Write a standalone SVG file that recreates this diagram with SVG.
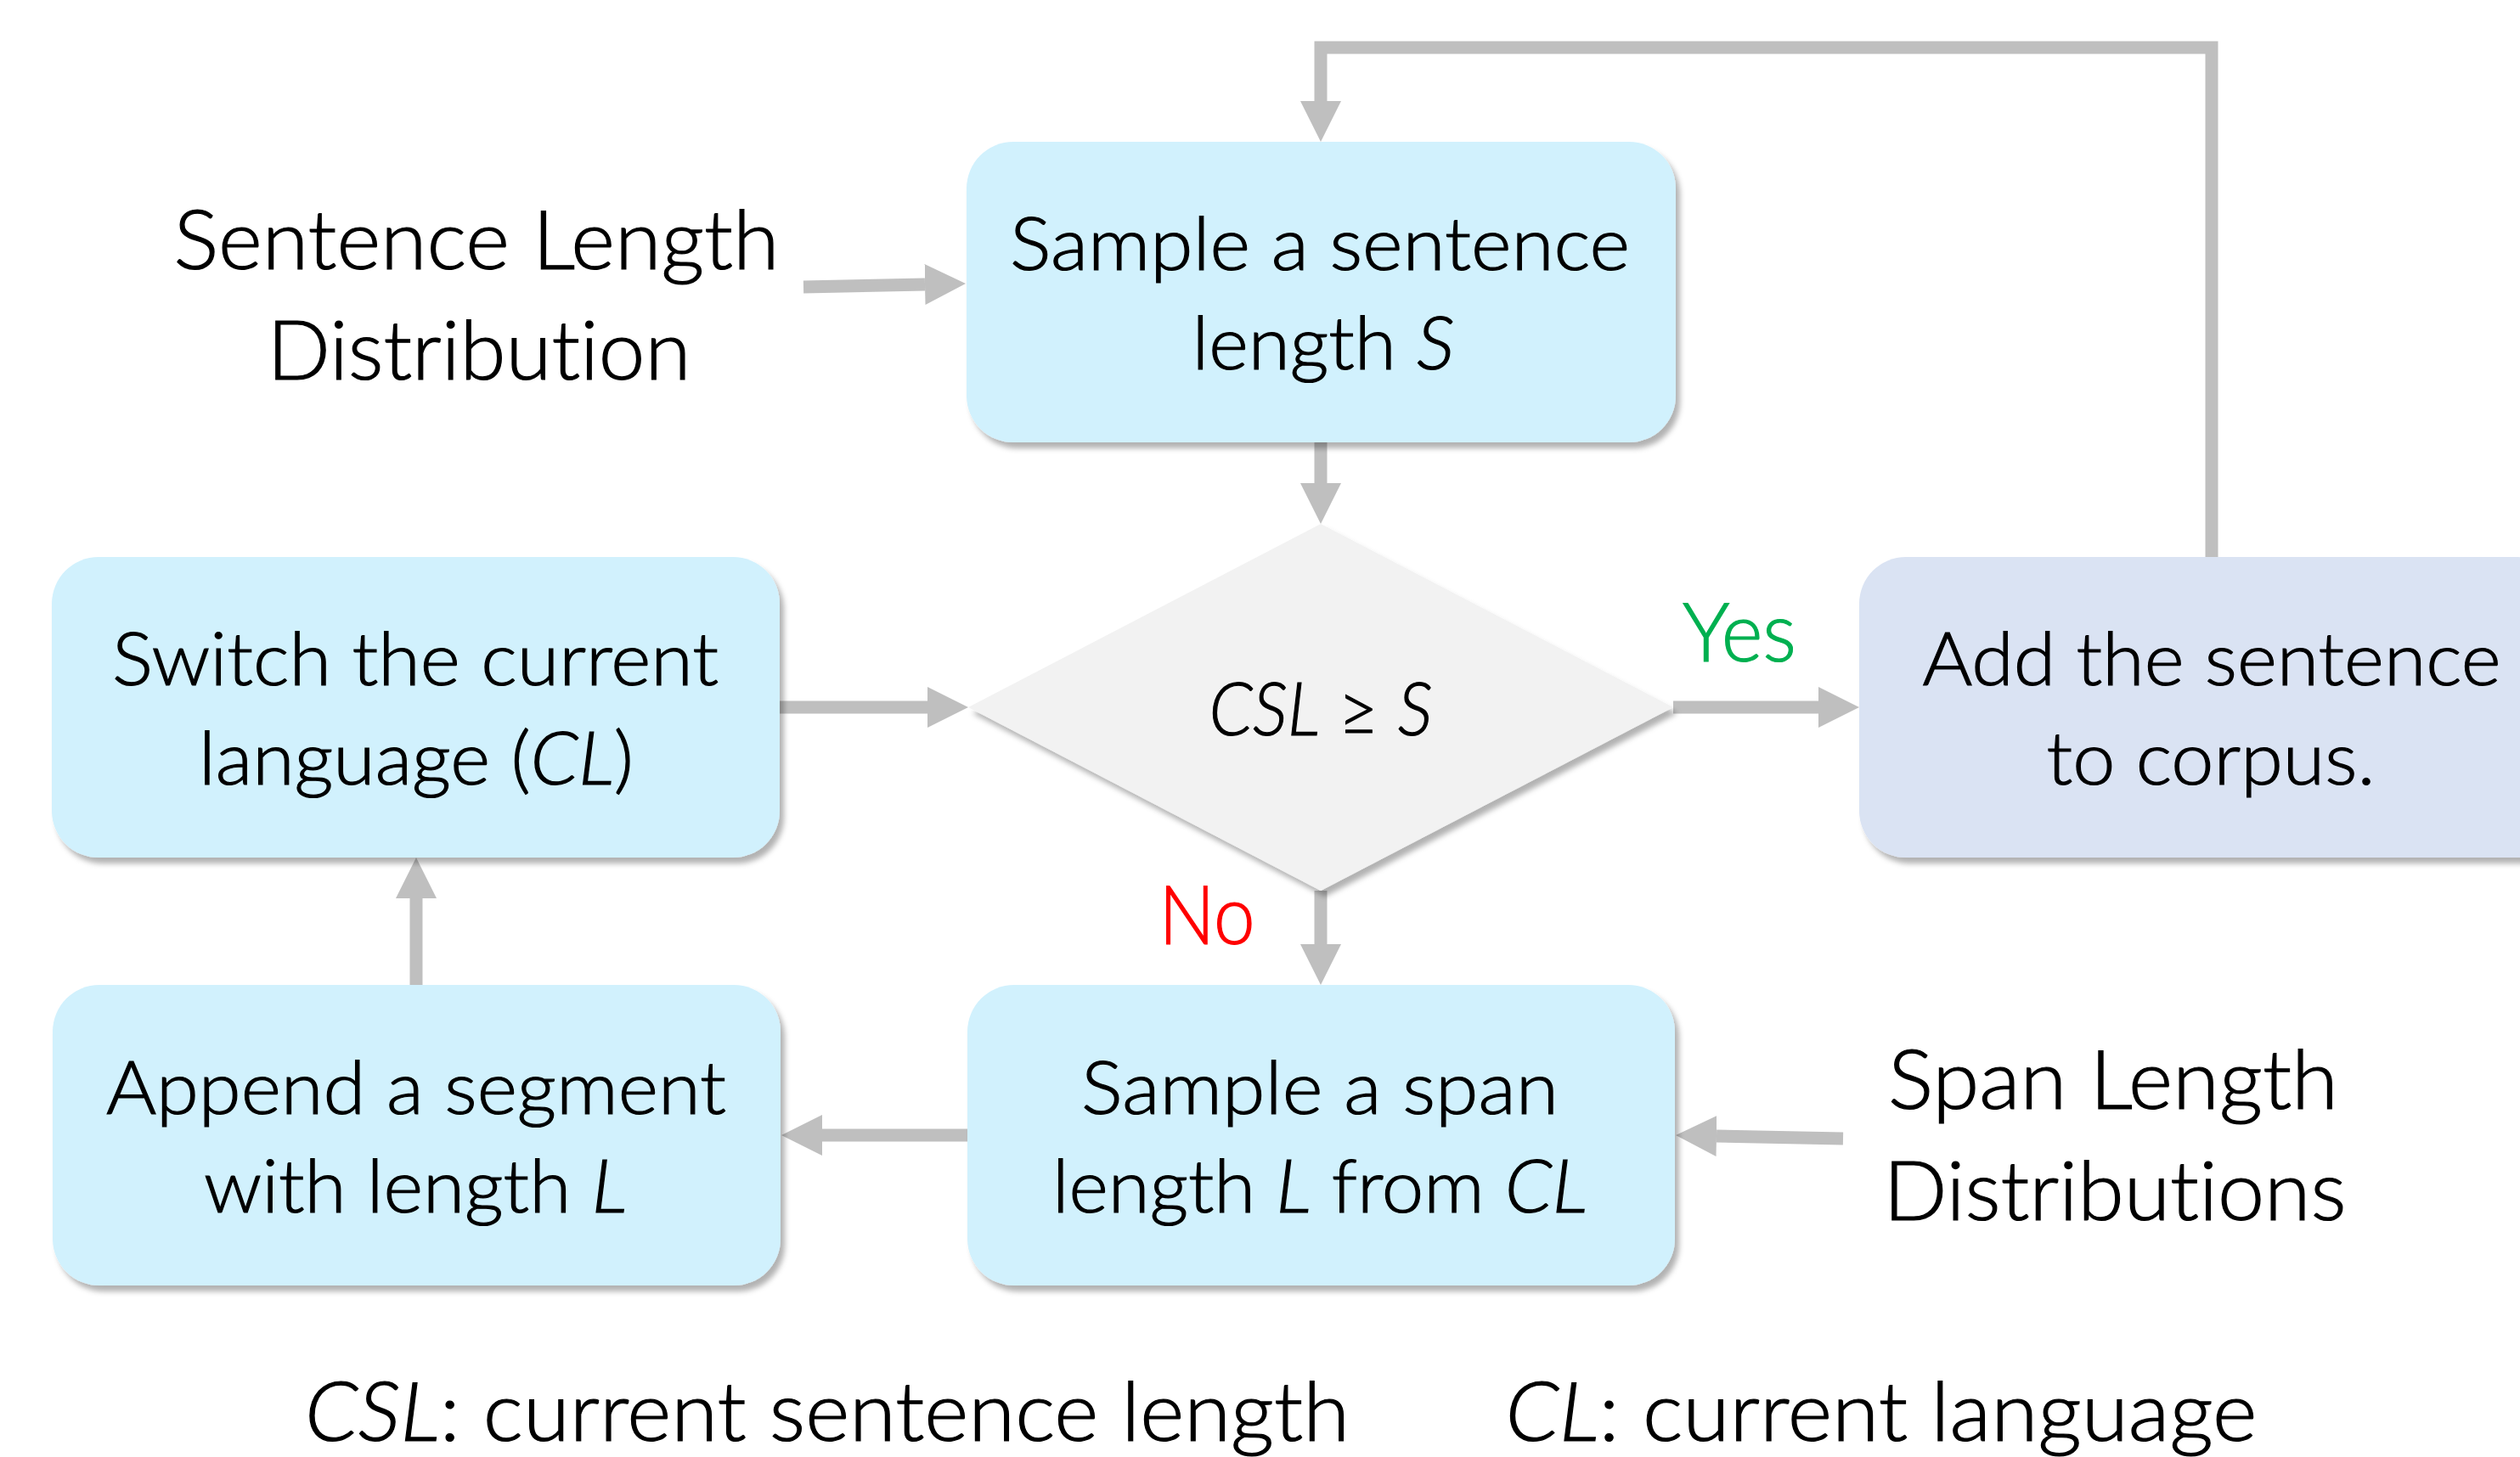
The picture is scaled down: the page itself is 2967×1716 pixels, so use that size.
<svg xmlns="http://www.w3.org/2000/svg" width="2967" height="1716" viewBox="0 0 2967 1716">
  <style>
    .box { fill: #D1F1FD; filter: url(#shade); }
    .box-out { fill: #DAE3F3; filter: url(#shade); }
    .decision { fill: #F2F2F2; filter: url(#shade); }
    .edge { fill: none; stroke: #BFBFBF; stroke-width: 15; marker-end: url(#head); }
    .loop { fill: none; stroke: #BFBFBF; stroke-width: 15; stroke-linejoin: miter; marker-end: url(#head); }
    text { font-family: Lato, "Open Sans", "Liberation Sans", sans-serif; font-weight: 300; font-variant-ligatures: none; fill: #000; stroke: #000; stroke-width: 1.2; text-anchor: middle; }
    .in { font-size: 87px; }
    .out { font-size: 97px; }
    .it { font-style: italic; }
    .yes { fill: #00B050; stroke: #00B050; }
    .no { fill: #FF0000; stroke: #FF0000; }
  </style>
  <defs>
    <filter id="shade" x="-10%" y="-10%" width="130%" height="130%">
      <feDropShadow dx="5" dy="7" stdDeviation="3" flood-color="#000" flood-opacity="0.3"/>
    </filter>
    <marker id="head" markerUnits="userSpaceOnUse" markerWidth="50" markerHeight="50" refX="0" refY="24" orient="auto">
      <path d="M0,0 L48,24 L0,48 z" fill="#BFBFBF"/>
    </marker>
  </defs>

  <!-- connectors -->
  <g id="connectors">
    <path class="loop" d="M2604,656 V56 H1555 V119"/>
    <path class="edge" d="M946,338 L1089,335"/>
    <path class="edge" d="M1555,521 V569"/>
    <path class="edge" d="M918,833 H1092"/>
    <path class="edge" d="M1970,833 H2141"/>
    <path class="edge" d="M1555,1049 V1112"/>
    <path class="edge" d="M1139,1337 H968"/>
    <path class="edge" d="M490,1160 V1058"/>
    <path class="edge" d="M2170,1341 L2021,1338"/>
  </g>

  <!-- source labels -->
  <g id="sentence-length-distribution">
    <text class="out" x="561" y="317" textLength="713" lengthAdjust="spacingAndGlyphs">Sentence Length</text>
    <text class="out" x="564" y="447" textLength="499" lengthAdjust="spacingAndGlyphs">Distribution</text>
  </g>
  <g id="span-length-distributions">
    <text class="out" x="2488" y="1306" textLength="530" lengthAdjust="spacingAndGlyphs">Span Length</text>
    <text class="out" x="2490" y="1437" textLength="545" lengthAdjust="spacingAndGlyphs">Distributions</text>
  </g>

  <!-- process steps -->
  <g id="sample-sentence">
    <rect class="box" x="1138" y="167" width="835" height="354" rx="55"/>
    <text class="in" x="1554" y="318" textLength="730" lengthAdjust="spacingAndGlyphs">Sample a sentence</text>
    <text class="in" x="1558" y="435" textLength="309" lengthAdjust="spacingAndGlyphs">length <tspan class="it">S</tspan></text>
  </g>

  <g id="check-length">
    <polygon class="decision" points="1555,617 1970,833 1555,1049 1140,833"/>
    <text class="in" x="1555" y="866" textLength="263" lengthAdjust="spacingAndGlyphs"><tspan class="it">CSL</tspan> ≥ <tspan class="it">S</tspan></text>
    <text class="out yes" x="2048" y="779" textLength="134" lengthAdjust="spacingAndGlyphs">Yes</text>
    <text class="out no" x="1421" y="1112" textLength="113" lengthAdjust="spacingAndGlyphs">No</text>
  </g>

  <g id="add-sentence">
    <rect class="box-out" x="2189" y="656" width="830" height="354" rx="55"/>
    <text class="in" x="2604" y="807" textLength="681" lengthAdjust="spacingAndGlyphs">Add the sentence</text>
    <text class="in" x="2603" y="924" textLength="387" lengthAdjust="spacingAndGlyphs">to corpus.</text>
  </g>

  <g id="switch-language">
    <rect class="box" x="61" y="656" width="857" height="354" rx="55"/>
    <text class="in" x="489" y="807" textLength="714" lengthAdjust="spacingAndGlyphs">Switch the current</text>
    <text class="in" x="490" y="924" textLength="512" lengthAdjust="spacingAndGlyphs">language (<tspan class="it">CL</tspan>)</text>
  </g>

  <g id="append-segment">
    <rect class="box" x="62" y="1160" width="857" height="354" rx="55"/>
    <text class="in" x="490" y="1312" textLength="730" lengthAdjust="spacingAndGlyphs">Append a segment</text>
    <text class="in" x="489" y="1428" textLength="498" lengthAdjust="spacingAndGlyphs">with length <tspan class="it">L</tspan></text>
  </g>

  <g id="sample-span">
    <rect class="box" x="1139" y="1160" width="833" height="354" rx="55"/>
    <text class="in" x="1554" y="1312" textLength="562" lengthAdjust="spacingAndGlyphs">Sample a span</text>
    <text class="in" x="1554" y="1428" textLength="630" lengthAdjust="spacingAndGlyphs">length <tspan class="it">L</tspan> from <tspan class="it">CL</tspan></text>
  </g>

  <!-- legend -->
  <g id="legend">
    <text class="out" x="974" y="1697" textLength="1230" lengthAdjust="spacingAndGlyphs"><tspan class="it">CSL</tspan>: current sentence length</text>
    <text class="out" x="2215" y="1697" textLength="885" lengthAdjust="spacingAndGlyphs"><tspan class="it">CL</tspan>: current language</text>
  </g>
</svg>
